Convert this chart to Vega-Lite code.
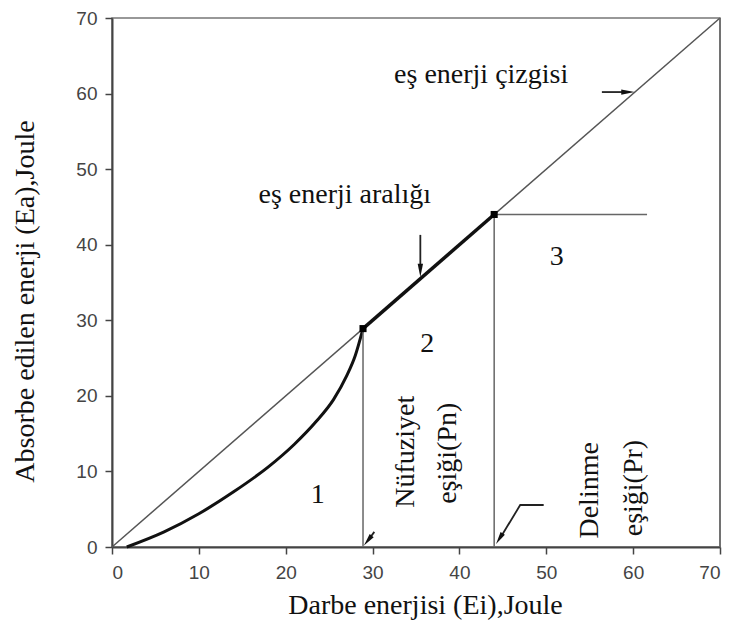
{
  "$schema": "https://vega.github.io/schema/vega-lite/v6.json",
  "width": 608,
  "height": 529,
  "autosize": "none",
  "padding": {"left": 112, "top": 18, "right": 16, "bottom": 94},
  "background": "white",
  "config": {
    "view": {"stroke": "#777", "strokeWidth": 1.5},
    "axis": {
      "grid": false,
      "domainColor": "#444",
      "domainWidth": 2,
      "tickColor": "#444",
      "tickWidth": 1.5,
      "tickSize": 7,
      "labelFont": "Liberation Sans",
      "labelFontSize": 19,
      "labelColor": "#444",
      "titleFont": "Liberation Serif",
      "titleFontSize": 28,
      "titleFontWeight": "normal",
      "titleColor": "#111"
    }
  },
  "datasets": {
    "diag": [{"x": 0, "y": 0}, {"x": 70, "y": 70}],
    "curve": [
      {"x": 1.7, "y": 0},
      {"x": 6, "y": 2.0},
      {"x": 10, "y": 4.4},
      {"x": 14, "y": 7.3},
      {"x": 18, "y": 10.6},
      {"x": 21, "y": 13.6},
      {"x": 23.5, "y": 16.6},
      {"x": 25.5, "y": 19.5},
      {"x": 27, "y": 22.6},
      {"x": 28, "y": 25.3},
      {"x": 28.9, "y": 28.9}
    ],
    "range": [{"x": 28.9, "y": 28.9}, {"x": 44, "y": 44}],
    "vrules": [
      {"x": 28.9, "y": 0, "y2": 28.9},
      {"x": 44, "y": 0, "y2": 44},
      {"x": 70, "y": 0, "y2": 70}
    ],
    "hrules": [{"x": 44, "x2": 61.6, "y": 44}],
    "arrows": [
      {"seg": "a", "x": 56.4, "y": 60.2},
      {"seg": "a", "x": 59.0, "y": 60.2},
      {"seg": "b", "x": 35.5, "y": 41.3},
      {"seg": "b", "x": 35.5, "y": 37.0},
      {"seg": "c", "x": 30.2, "y": 2.0},
      {"seg": "c", "x": 29.5, "y": 0.9},
      {"seg": "d", "x": 49.7, "y": 5.56},
      {"seg": "d", "x": 47.0, "y": 5.56},
      {"seg": "d", "x": 44.7, "y": 1.2}
    ],
    "labels": [
      {"x": 42.5, "y": 62.5, "label": "eş enerji çizgisi"},
      {"x": 26.8, "y": 46.6, "label": "eş enerji aralığı"},
      {"x": 23.7, "y": 6.9, "label": "1"},
      {"x": 36.3, "y": 26.9, "label": "2"},
      {"x": 51.2, "y": 38.4, "label": "3"}
    ],
    "vlabels": [
      {"x": 33.8, "y": 12.6, "label": "Nüfuziyet"},
      {"x": 38.7, "y": 12.4, "label": "eşiği(Pn)"},
      {"x": 55.0, "y": 7.5, "label": "Delinme"},
      {"x": 60.1, "y": 7.8, "label": "eşiği(Pr)"}
    ]
  },
  "encoding": {
    "x": {
      "field": "x", "type": "quantitative",
      "scale": {"domain": [0, 70], "nice": false, "zero": false},
      "axis": {
        "values": [0, 10, 20, 30, 40, 50, 60, 70],
        "title": "Darbe enerjisi (Ei),Joule",
        "titleX": 313, "titleY": 58, "titleBaseline": "middle", "titleAnchor": "start", "titleAlign": "center",
        "labelPadding": 9
      }
    },
    "y": {
      "field": "y", "type": "quantitative",
      "scale": {"domain": [0, 70], "nice": false, "zero": false},
      "axis": {
        "values": [0, 10, 20, 30, 40, 50, 60, 70],
        "title": "Absorbe edilen enerji (Ea),Joule",
        "titleX": -87, "titleY": 283, "titleAngle": 270, "titleBaseline": "middle", "titleAlign": "center", "titleAnchor": "start",
        "labelPadding": 8
      }
    }
  },
  "layer": [
    {"data": {"name": "diag"}, "mark": {"type": "line", "color": "#555", "strokeWidth": 1.5}},
    {"data": {"name": "curve"}, "mark": {"type": "line", "color": "#111", "strokeWidth": 3, "interpolate": "monotone"}},
    {"data": {"name": "range"}, "mark": {"type": "line", "color": "#111", "strokeWidth": 3.5}},
    {"data": {"name": "vrules"}, "mark": {"type": "rule", "color": "#666", "strokeWidth": 1.5}, "encoding": {"y2": {"field": "y2"}}},
    {"data": {"name": "hrules"}, "mark": {"type": "rule", "color": "#666", "strokeWidth": 1.5}, "encoding": {"x2": {"field": "x2"}}},
    {"data": {"name": "range"}, "mark": {"type": "point", "shape": "square", "filled": true, "color": "#000", "size": 50, "opacity": 1}},
    {"data": {"name": "arrows"}, "mark": {"type": "line", "color": "#222", "strokeWidth": 1.8}, "encoding": {"detail": {"field": "seg"}}},
    {"data": {"values": [{"x": 59.4, "y": 60.2}]}, "mark": {"type": "point", "shape": "M0,-1L0.4,1L-0.4,1Z", "filled": true, "color": "#111", "size": 180, "angle": 90, "opacity": 1}},
    {"data": {"values": [{"x": 35.5, "y": 36.6}]}, "mark": {"type": "point", "shape": "M0,-1L0.4,1L-0.4,1Z", "filled": true, "color": "#111", "size": 180, "angle": 180, "opacity": 1}},
    {"data": {"values": [{"x": 29.45, "y": 0.85}]}, "mark": {"type": "point", "shape": "M0,-1L0.4,1L-0.4,1Z", "filled": true, "color": "#111", "size": 160, "angle": 218, "opacity": 1}},
    {"data": {"values": [{"x": 44.6, "y": 1.1}]}, "mark": {"type": "point", "shape": "M0,-1L0.4,1L-0.4,1Z", "filled": true, "color": "#111", "size": 160, "angle": 212, "opacity": 1}},
    {"data": {"name": "labels"}, "mark": {"type": "text", "font": "Liberation Serif", "fontSize": 28, "color": "#111", "align": "center", "baseline": "middle"}, "encoding": {"text": {"field": "label"}}},
    {"data": {"name": "vlabels"}, "mark": {"type": "text", "font": "Liberation Serif", "fontSize": 28, "color": "#111", "align": "center", "baseline": "middle", "angle": 270}, "encoding": {"text": {"field": "label"}}}
  ]
}
